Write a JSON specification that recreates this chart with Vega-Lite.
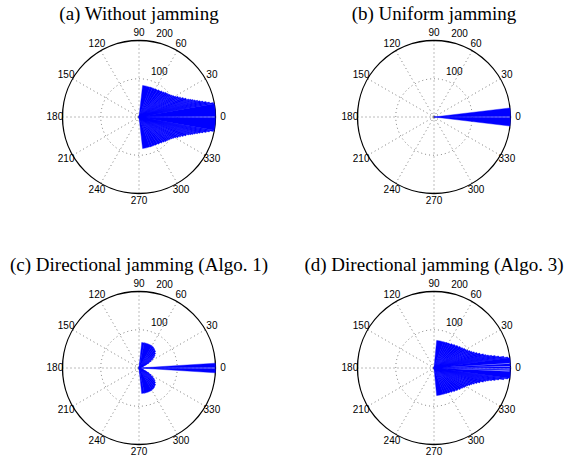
{
"$schema": "https://vega.github.io/schema/vega-lite/v6.json",
"background": "white",
"padding": {"left": 9, "top": 5, "right": 0, "bottom": 0},
"autosize": {"type": "pad"},
"datasets": {
"spokes": [{"a":0},{"a":30},{"a":60},{"a":90},{"a":120},{"a":150}],
"rings": [{"r":100,"k":"dot"},{"r":200,"k":"rim"}],
"alabels": [{"a":0,"t":"0"},{"a":30,"t":"30"},{"a":60,"t":"60"},{"a":90,"t":"90"},{"a":120,"t":"120"},{"a":150,"t":"150"},{"a":180,"t":"180"},{"a":210,"t":"210"},{"a":240,"t":"240"},{"a":270,"t":"270"},{"a":300,"t":"300"},{"a":330,"t":"330"}],
"rlabels": [{"r":100,"t":"100"},{"r":200,"t":"200"}],
"fan": [
{"p":"a","t1":0.4,"t2":10,"r":200},{"p":"a","t1":10,"t2":11,"r":198},{"p":"a","t1":11,"t2":12,"r":188},{"p":"a","t1":12,"t2":13,"r":180},{"p":"a","t1":13,"t2":14,"r":172},{"p":"a","t1":14,"t2":15,"r":165},{"p":"a","t1":15,"t2":16,"r":159},{"p":"a","t1":16,"t2":17,"r":153},{"p":"a","t1":17,"t2":18,"r":148},{"p":"a","t1":18,"t2":19,"r":143},{"p":"a","t1":19,"t2":20,"r":138},{"p":"a","t1":20,"t2":22,"r":132},{"p":"a","t1":22,"t2":24,"r":126},{"p":"a","t1":24,"t2":26,"r":120},{"p":"a","t1":26,"t2":28,"r":115},{"p":"a","t1":28,"t2":30,"r":110},{"p":"a","t1":30,"t2":32,"r":106},{"p":"a","t1":32,"t2":34,"r":103},{"p":"a","t1":34,"t2":36,"r":100},{"p":"a","t1":36,"t2":38,"r":98},{"p":"a","t1":38,"t2":40,"r":96.5},{"p":"a","t1":40,"t2":43,"r":95},{"p":"a","t1":43,"t2":46,"r":92},{"p":"a","t1":46,"t2":50,"r":89.5},{"p":"a","t1":50,"t2":55,"r":87},{"p":"a","t1":55,"t2":60,"r":85},{"p":"a","t1":60,"t2":65,"r":84},{"p":"a","t1":65,"t2":70,"r":83.5},{"p":"a","t1":70,"t2":83.5,"r":83},
{"p":"a","t1":-10,"t2":-0.4,"r":200},{"p":"a","t1":-11,"t2":-10,"r":198},{"p":"a","t1":-12,"t2":-11,"r":188},{"p":"a","t1":-13,"t2":-12,"r":180},{"p":"a","t1":-14,"t2":-13,"r":172},{"p":"a","t1":-15,"t2":-14,"r":165},{"p":"a","t1":-16,"t2":-15,"r":159},{"p":"a","t1":-17,"t2":-16,"r":153},{"p":"a","t1":-18,"t2":-17,"r":148},{"p":"a","t1":-19,"t2":-18,"r":143},{"p":"a","t1":-20,"t2":-19,"r":138},{"p":"a","t1":-22,"t2":-20,"r":132},{"p":"a","t1":-24,"t2":-22,"r":126},{"p":"a","t1":-26,"t2":-24,"r":120},{"p":"a","t1":-28,"t2":-26,"r":115},{"p":"a","t1":-30,"t2":-28,"r":110},{"p":"a","t1":-32,"t2":-30,"r":106},{"p":"a","t1":-34,"t2":-32,"r":103},{"p":"a","t1":-36,"t2":-34,"r":100},{"p":"a","t1":-38,"t2":-36,"r":98},{"p":"a","t1":-40,"t2":-38,"r":96.5},{"p":"a","t1":-43,"t2":-40,"r":95},{"p":"a","t1":-46,"t2":-43,"r":92},{"p":"a","t1":-50,"t2":-46,"r":89.5},{"p":"a","t1":-55,"t2":-50,"r":87},{"p":"a","t1":-60,"t2":-55,"r":85},{"p":"a","t1":-65,"t2":-60,"r":84},{"p":"a","t1":-70,"t2":-65,"r":83.5},{"p":"a","t1":-83.5,"t2":-70,"r":83},
{"p":"b","t1":0.3,"t2":6.8,"r":200},{"p":"b","t1":-6.8,"t2":-0.3,"r":200},
{"p":"c","t1":0.3,"t2":3.6,"r":200},{"p":"c","t1":-3.6,"t2":-0.3,"r":200},
{"p":"c","t1":16,"t2":20,"r":6},{"p":"c","t1":20,"t2":23,"r":13},{"p":"c","t1":23,"t2":26,"r":21},{"p":"c","t1":26,"t2":29,"r":29},{"p":"c","t1":29,"t2":32,"r":37},{"p":"c","t1":32,"t2":35,"r":44},{"p":"c","t1":35,"t2":38,"r":50},{"p":"c","t1":38,"t2":41,"r":54},{"p":"c","t1":41,"t2":45,"r":58},{"p":"c","t1":45,"t2":50,"r":62},{"p":"c","t1":50,"t2":55,"r":64.5},{"p":"c","t1":55,"t2":60,"r":66.5},{"p":"c","t1":60,"t2":78,"r":67.5},{"p":"c","t1":78,"t2":84,"r":67},
{"p":"c","t1":-20,"t2":-16,"r":6},{"p":"c","t1":-23,"t2":-20,"r":13},{"p":"c","t1":-26,"t2":-23,"r":21},{"p":"c","t1":-29,"t2":-26,"r":29},{"p":"c","t1":-32,"t2":-29,"r":37},{"p":"c","t1":-35,"t2":-32,"r":44},{"p":"c","t1":-38,"t2":-35,"r":50},{"p":"c","t1":-41,"t2":-38,"r":54},{"p":"c","t1":-45,"t2":-41,"r":58},{"p":"c","t1":-50,"t2":-45,"r":62},{"p":"c","t1":-55,"t2":-50,"r":64.5},{"p":"c","t1":-60,"t2":-55,"r":66.5},{"p":"c","t1":-78,"t2":-60,"r":67.5},{"p":"c","t1":-84,"t2":-78,"r":67},
{"p":"d","t1":3.85,"t2":7.7,"r":200},{"p":"d","t1":1.55,"t2":3.15,"r":200},{"p":"d","t1":-0.35,"t2":0.85,"r":200},{"p":"d","t1":-1.85,"t2":-1.05,"r":200},{"p":"d","t1":-7.7,"t2":-2.55,"r":200},
{"p":"d","t1":7.7,"t2":8.5,"r":195},{"p":"d","t1":8.5,"t2":9.5,"r":185},{"p":"d","t1":9.5,"t2":10.5,"r":172},{"p":"d","t1":10.5,"t2":11.5,"r":163},{"p":"d","t1":11.5,"t2":12.5,"r":154},{"p":"d","t1":12.5,"t2":13.5,"r":146},{"p":"d","t1":13.5,"t2":14.5,"r":140},{"p":"d","t1":14.5,"t2":16,"r":134},{"p":"d","t1":16,"t2":18,"r":126},{"p":"d","t1":18,"t2":20,"r":119},{"p":"d","t1":20,"t2":22,"r":113},{"p":"d","t1":22,"t2":24,"r":108},{"p":"d","t1":24,"t2":26,"r":104},{"p":"d","t1":26,"t2":28,"r":100},{"p":"d","t1":28,"t2":30,"r":97},{"p":"d","t1":30,"t2":33,"r":94.5},{"p":"d","t1":33,"t2":36,"r":91},{"p":"d","t1":36,"t2":40,"r":88},{"p":"d","t1":40,"t2":45,"r":84.5},{"p":"d","t1":45,"t2":50,"r":81},{"p":"d","t1":50,"t2":55,"r":78},{"p":"d","t1":55,"t2":60,"r":75.5},{"p":"d","t1":60,"t2":65,"r":74},{"p":"d","t1":65,"t2":70,"r":73},{"p":"d","t1":70,"t2":84.5,"r":72.5},
{"p":"d","t1":-8.5,"t2":-7.7,"r":195},{"p":"d","t1":-9.5,"t2":-8.5,"r":185},{"p":"d","t1":-10.5,"t2":-9.5,"r":172},{"p":"d","t1":-11.5,"t2":-10.5,"r":163},{"p":"d","t1":-12.5,"t2":-11.5,"r":154},{"p":"d","t1":-13.5,"t2":-12.5,"r":146},{"p":"d","t1":-14.5,"t2":-13.5,"r":140},{"p":"d","t1":-16,"t2":-14.5,"r":134},{"p":"d","t1":-18,"t2":-16,"r":126},{"p":"d","t1":-20,"t2":-18,"r":119},{"p":"d","t1":-22,"t2":-20,"r":113},{"p":"d","t1":-24,"t2":-22,"r":108},{"p":"d","t1":-26,"t2":-24,"r":104},{"p":"d","t1":-28,"t2":-26,"r":100},{"p":"d","t1":-30,"t2":-28,"r":97},{"p":"d","t1":-33,"t2":-30,"r":94.5},{"p":"d","t1":-36,"t2":-33,"r":91},{"p":"d","t1":-40,"t2":-36,"r":88},{"p":"d","t1":-45,"t2":-40,"r":84.5},{"p":"d","t1":-50,"t2":-45,"r":81},{"p":"d","t1":-55,"t2":-50,"r":78},{"p":"d","t1":-60,"t2":-55,"r":75.5},{"p":"d","t1":-65,"t2":-60,"r":74},{"p":"d","t1":-70,"t2":-65,"r":73},{"p":"d","t1":-84.5,"t2":-70,"r":72.5}
]
},
"columns": 2,
"spacing": {"row": 61, "column": 105},
"bounds": "flush",
"concat": [
{"title": "(a) Without jamming", "width": 190, "height": 190,
 "layer": [
  {"data":{"name":"rings"},"transform":[{"filter":"datum.k=='dot'"}],"mark":{"type":"arc","theta":0,"theta2":6.2832,"filled":false,"stroke":"#444","strokeWidth":0.7,"strokeDash":[1,3]},"encoding":{"radius":{"field":"r","type":"quantitative","scale":{"type":"linear","domain":[0,200],"range":[0,76.5]}}}},
  {"data":{"name":"spokes"},"transform":[{"calculate":"200*cos(datum.a*PI/180)","as":"x1"},{"calculate":"200*sin(datum.a*PI/180)","as":"y1"},{"calculate":"-datum.x1","as":"x0"},{"calculate":"-datum.y1","as":"y0"}],"mark":{"type":"rule","stroke":"#444","strokeWidth":0.7,"strokeDash":[1,3]},"encoding":{"x":{"field":"x0","type":"quantitative","scale":{"domain":[-248.37,248.37],"nice":false,"zero":false},"axis":null},"y":{"field":"y0","type":"quantitative","scale":{"domain":[-248.37,248.37],"nice":false,"zero":false},"axis":null},"x2":{"field":"x1"},"y2":{"field":"y1"}}},
  {"data":{"values":[{}]},"mark":{"type":"point","shape":"circle","filled":false,"size":9,"stroke":"#666","strokeWidth":0.6},"encoding":{"x":{"datum":0,"type":"quantitative"},"y":{"datum":0,"type":"quantitative"}}},
  {"data":{"name":"rings"},"transform":[{"filter":"datum.k=='rim'"}],"mark":{"type":"arc","theta":0,"theta2":6.2832,"filled":false,"stroke":"black","strokeWidth":1.3},"encoding":{"radius":{"field":"r","type":"quantitative"}}},
  {"data":{"name":"fan"},"transform":[{"filter":"datum.p=='a'"}],"mark":{"type":"arc","fill":"#0000ff","stroke":"#0000ff","strokeWidth":0.4},"encoding":{"theta":{"field":"t1","type":"quantitative","stack":null,"scale":{"domain":[0,360],"range":[1.5707963,-4.712389]}},"theta2":{"field":"t2"},"radius":{"field":"r","type":"quantitative"}}},
  {"data":{"name":"alabels"},"mark":{"type":"text","font":"Liberation Sans","fontSize":10,"color":"black","align":"center","baseline":"middle"},"encoding":{"theta":{"field":"a","type":"quantitative","stack":null},"radius":{"datum":220,"type":"quantitative"},"text":{"field":"t"}}},
  {"data":{"name":"rlabels"},"mark":{"type":"text","font":"Liberation Sans","fontSize":10,"color":"black","align":"left","baseline":"bottom","dx":6.3,"radiusOffset":1.9},"encoding":{"theta":{"datum":82,"type":"quantitative","stack":null},"radius":{"field":"r","type":"quantitative"},"text":{"field":"t"}}}
 ]},
{"title": "(b) Uniform jamming", "width": 190, "height": 190,
 "layer": [
  {"data":{"name":"rings"},"transform":[{"filter":"datum.k=='dot'"}],"mark":{"type":"arc","theta":0,"theta2":6.2832,"filled":false,"stroke":"#444","strokeWidth":0.7,"strokeDash":[1,3]},"encoding":{"radius":{"field":"r","type":"quantitative","scale":{"type":"linear","domain":[0,200],"range":[0,76.5]}}}},
  {"data":{"name":"spokes"},"transform":[{"calculate":"200*cos(datum.a*PI/180)","as":"x1"},{"calculate":"200*sin(datum.a*PI/180)","as":"y1"},{"calculate":"-datum.x1","as":"x0"},{"calculate":"-datum.y1","as":"y0"}],"mark":{"type":"rule","stroke":"#444","strokeWidth":0.7,"strokeDash":[1,3]},"encoding":{"x":{"field":"x0","type":"quantitative","scale":{"domain":[-248.37,248.37],"nice":false,"zero":false},"axis":null},"y":{"field":"y0","type":"quantitative","scale":{"domain":[-248.37,248.37],"nice":false,"zero":false},"axis":null},"x2":{"field":"x1"},"y2":{"field":"y1"}}},
  {"data":{"values":[{}]},"mark":{"type":"point","shape":"circle","filled":false,"size":9,"stroke":"#666","strokeWidth":0.6},"encoding":{"x":{"datum":0,"type":"quantitative"},"y":{"datum":0,"type":"quantitative"}}},
  {"data":{"name":"rings"},"transform":[{"filter":"datum.k=='rim'"}],"mark":{"type":"arc","theta":0,"theta2":6.2832,"filled":false,"stroke":"black","strokeWidth":1.3},"encoding":{"radius":{"field":"r","type":"quantitative"}}},
  {"data":{"name":"fan"},"transform":[{"filter":"datum.p=='b'"}],"mark":{"type":"arc","fill":"#0000ff","stroke":"#0000ff","strokeWidth":0.4},"encoding":{"theta":{"field":"t1","type":"quantitative","stack":null,"scale":{"domain":[0,360],"range":[1.5707963,-4.712389]}},"theta2":{"field":"t2"},"radius":{"field":"r","type":"quantitative"}}},
  {"data":{"name":"alabels"},"mark":{"type":"text","font":"Liberation Sans","fontSize":10,"color":"black","align":"center","baseline":"middle"},"encoding":{"theta":{"field":"a","type":"quantitative","stack":null},"radius":{"datum":220,"type":"quantitative"},"text":{"field":"t"}}},
  {"data":{"name":"rlabels"},"mark":{"type":"text","font":"Liberation Sans","fontSize":10,"color":"black","align":"left","baseline":"bottom","dx":6.3,"radiusOffset":1.9},"encoding":{"theta":{"datum":82,"type":"quantitative","stack":null},"radius":{"field":"r","type":"quantitative"},"text":{"field":"t"}}}
 ]},
{"title": "(c) Directional jamming (Algo. 1)", "width": 190, "height": 190,
 "layer": [
  {"data":{"name":"rings"},"transform":[{"filter":"datum.k=='dot'"}],"mark":{"type":"arc","theta":0,"theta2":6.2832,"filled":false,"stroke":"#444","strokeWidth":0.7,"strokeDash":[1,3]},"encoding":{"radius":{"field":"r","type":"quantitative","scale":{"type":"linear","domain":[0,200],"range":[0,76.5]}}}},
  {"data":{"name":"spokes"},"transform":[{"calculate":"200*cos(datum.a*PI/180)","as":"x1"},{"calculate":"200*sin(datum.a*PI/180)","as":"y1"},{"calculate":"-datum.x1","as":"x0"},{"calculate":"-datum.y1","as":"y0"}],"mark":{"type":"rule","stroke":"#444","strokeWidth":0.7,"strokeDash":[1,3]},"encoding":{"x":{"field":"x0","type":"quantitative","scale":{"domain":[-248.37,248.37],"nice":false,"zero":false},"axis":null},"y":{"field":"y0","type":"quantitative","scale":{"domain":[-248.37,248.37],"nice":false,"zero":false},"axis":null},"x2":{"field":"x1"},"y2":{"field":"y1"}}},
  {"data":{"values":[{}]},"mark":{"type":"point","shape":"circle","filled":false,"size":9,"stroke":"#666","strokeWidth":0.6},"encoding":{"x":{"datum":0,"type":"quantitative"},"y":{"datum":0,"type":"quantitative"}}},
  {"data":{"name":"rings"},"transform":[{"filter":"datum.k=='rim'"}],"mark":{"type":"arc","theta":0,"theta2":6.2832,"filled":false,"stroke":"black","strokeWidth":1.3},"encoding":{"radius":{"field":"r","type":"quantitative"}}},
  {"data":{"name":"fan"},"transform":[{"filter":"datum.p=='c'"}],"mark":{"type":"arc","fill":"#0000ff","stroke":"#0000ff","strokeWidth":0.4},"encoding":{"theta":{"field":"t1","type":"quantitative","stack":null,"scale":{"domain":[0,360],"range":[1.5707963,-4.712389]}},"theta2":{"field":"t2"},"radius":{"field":"r","type":"quantitative"}}},
  {"data":{"name":"alabels"},"mark":{"type":"text","font":"Liberation Sans","fontSize":10,"color":"black","align":"center","baseline":"middle"},"encoding":{"theta":{"field":"a","type":"quantitative","stack":null},"radius":{"datum":220,"type":"quantitative"},"text":{"field":"t"}}},
  {"data":{"name":"rlabels"},"mark":{"type":"text","font":"Liberation Sans","fontSize":10,"color":"black","align":"left","baseline":"bottom","dx":6.3,"radiusOffset":1.9},"encoding":{"theta":{"datum":82,"type":"quantitative","stack":null},"radius":{"field":"r","type":"quantitative"},"text":{"field":"t"}}}
 ]},
{"title": "(d) Directional jamming (Algo. 3)", "width": 190, "height": 190,
 "layer": [
  {"data":{"name":"rings"},"transform":[{"filter":"datum.k=='dot'"}],"mark":{"type":"arc","theta":0,"theta2":6.2832,"filled":false,"stroke":"#444","strokeWidth":0.7,"strokeDash":[1,3]},"encoding":{"radius":{"field":"r","type":"quantitative","scale":{"type":"linear","domain":[0,200],"range":[0,76.5]}}}},
  {"data":{"name":"spokes"},"transform":[{"calculate":"200*cos(datum.a*PI/180)","as":"x1"},{"calculate":"200*sin(datum.a*PI/180)","as":"y1"},{"calculate":"-datum.x1","as":"x0"},{"calculate":"-datum.y1","as":"y0"}],"mark":{"type":"rule","stroke":"#444","strokeWidth":0.7,"strokeDash":[1,3]},"encoding":{"x":{"field":"x0","type":"quantitative","scale":{"domain":[-248.37,248.37],"nice":false,"zero":false},"axis":null},"y":{"field":"y0","type":"quantitative","scale":{"domain":[-248.37,248.37],"nice":false,"zero":false},"axis":null},"x2":{"field":"x1"},"y2":{"field":"y1"}}},
  {"data":{"values":[{}]},"mark":{"type":"point","shape":"circle","filled":false,"size":9,"stroke":"#666","strokeWidth":0.6},"encoding":{"x":{"datum":0,"type":"quantitative"},"y":{"datum":0,"type":"quantitative"}}},
  {"data":{"name":"rings"},"transform":[{"filter":"datum.k=='rim'"}],"mark":{"type":"arc","theta":0,"theta2":6.2832,"filled":false,"stroke":"black","strokeWidth":1.3},"encoding":{"radius":{"field":"r","type":"quantitative"}}},
  {"data":{"name":"fan"},"transform":[{"filter":"datum.p=='d'"}],"mark":{"type":"arc","fill":"#0000ff","stroke":"#0000ff","strokeWidth":0.4},"encoding":{"theta":{"field":"t1","type":"quantitative","stack":null,"scale":{"domain":[0,360],"range":[1.5707963,-4.712389]}},"theta2":{"field":"t2"},"radius":{"field":"r","type":"quantitative"}}},
  {"data":{"name":"alabels"},"mark":{"type":"text","font":"Liberation Sans","fontSize":10,"color":"black","align":"center","baseline":"middle"},"encoding":{"theta":{"field":"a","type":"quantitative","stack":null},"radius":{"datum":220,"type":"quantitative"},"text":{"field":"t"}}},
  {"data":{"name":"rlabels"},"mark":{"type":"text","font":"Liberation Sans","fontSize":10,"color":"black","align":"left","baseline":"bottom","dx":6.3,"radiusOffset":1.9},"encoding":{"theta":{"datum":82,"type":"quantitative","stack":null},"radius":{"field":"r","type":"quantitative"},"text":{"field":"t"}}}
 ]}
],
"config": {"view": {"stroke": null}, "title": {"font": "Liberation Serif", "fontSize": 19, "fontWeight": "normal", "color": "black", "anchor": "middle", "offset": -2, "baseline": "alphabetic"}}
}
